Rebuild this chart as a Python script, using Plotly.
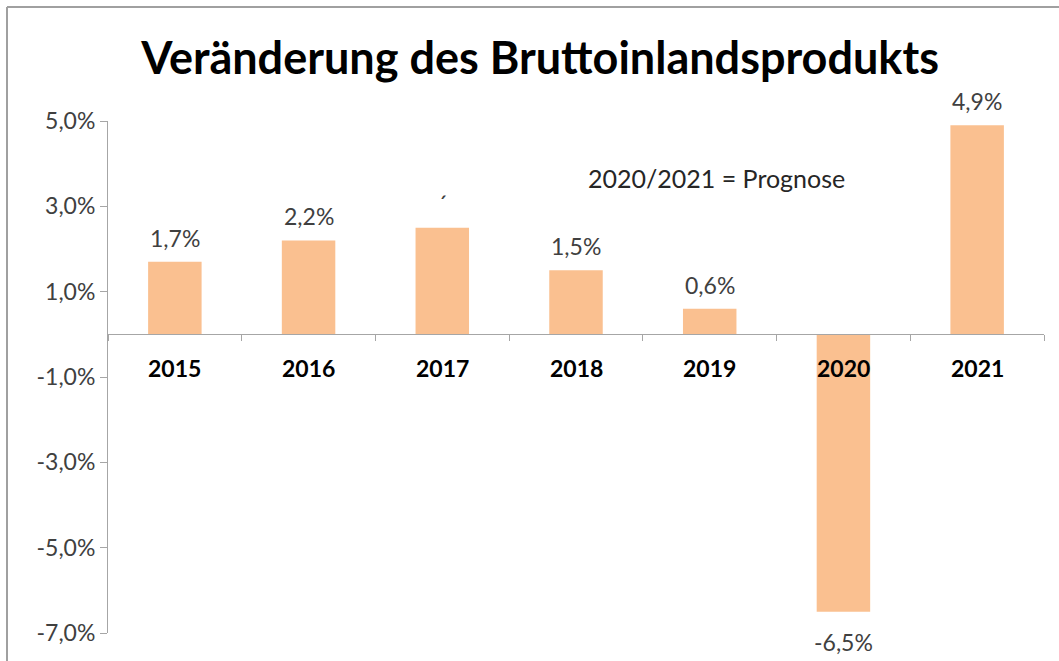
import plotly.graph_objects as go

# Data (percent change of GDP)
years = ["2015", "2016", "2017", "2018", "2019", "2020", "2021"]
growth = [1.7, 2.2, 2.5, 1.5, 0.6, -6.5, 4.9]
# the 2017 label is missing in the original, only a stray mark is visible
labels = ["1,7%", "2,2%", "´", "1,5%", "0,6%", "-6,5%", "4,9%"]
y_ticks = [5, 3, 1, -1, -3, -5, -7]
y_tick_text = ["5,0%", "3,0%", "1,0%", "-1,0%", "-3,0%", "-5,0%", "-7,0%"]

bar_color = "#FAC090"
axis_color = "#A6A6A6"
font_family = "Lato, Open Sans, sans-serif"

W, H = 1059, 661
margin = dict(l=108, r=15, t=121, b=28)
y_min, y_max = -7, 5
pw = W - margin["l"] - margin["r"]
ph = H - margin["t"] - margin["b"]

fig = go.Figure()
fig.add_trace(go.Bar(
    x=years,
    y=growth,
    marker=dict(color=bar_color, line=dict(width=0)),
    width=0.4,
    showlegend=False,
))

# value labels above / below the bars (category axis -> use the index)
for i, (val, txt) in enumerate(zip(growth, labels)):
    fig.add_annotation(
        x=i, y=val, text=txt, showarrow=False,
        yanchor="bottom" if val >= 0 else "top",
        yshift=8 if val >= 0 else -14,
        font=dict(family=font_family, size=23, color="#404040"),
    )

# category labels sitting just under the zero line
for i, yr in enumerate(years):
    fig.add_annotation(
        x=i, y=0, text="<b>" + yr + "</b>", showarrow=False,
        yanchor="top", yshift=-18,
        font=dict(family=font_family, size=23, color="black"),
    )

fig.add_annotation(
    x=0.65, y=3.66, xref="paper", yref="y", text="2020/2021 = Prognose",
    showarrow=False, xanchor="center", yanchor="middle",
    font=dict(family=font_family, size=25, color="#262626"),
)

# outer frame (top and left edge of the cropped chart area)
def px_x(px):
    return (px - margin["l"]) / pw

def px_y(py):
    return (H - margin["b"] - py) / ph

frame = dict(color="#A0A0A0", width=2)
fig.add_shape(type="line", xref="paper", yref="paper",
              x0=px_x(7), x1=px_x(W + 5), y0=px_y(7), y1=px_y(7), line=frame)
fig.add_shape(type="line", xref="paper", yref="paper",
              x0=px_x(7), x1=px_x(7), y0=px_y(7), y1=px_y(H + 5), line=frame)

fig.update_layout(
    width=W, height=H,
    margin=margin,
    paper_bgcolor="white",
    plot_bgcolor="white",
    bargap=0.6,
    title=dict(
        text="<b>Veränderung des Bruttoinlandsprodukts</b>",
        x=0.51, xref="container", xanchor="center",
        y=1 - 58 / H, yref="container", yanchor="middle",
        font=dict(family=font_family, size=45, color="black"),
    ),
    xaxis=dict(
        type="category",
        categoryorder="array", categoryarray=years,
        range=[-0.5, len(years) - 0.5],
        anchor="free",
        position=(0 - y_min) / (y_max - y_min),
        showline=True, linecolor=axis_color, linewidth=1,
        ticks="outside", tickson="boundaries", ticklen=6, tickcolor=axis_color,
        showticklabels=False,
        showgrid=False, zeroline=False,
    ),
    yaxis=dict(
        range=[y_min, y_max],
        tickmode="array", tickvals=y_ticks, ticktext=y_tick_text,
        showline=True, linecolor=axis_color, linewidth=1,
        ticks="outside", ticklen=7, tickcolor=axis_color,
        tickfont=dict(family=font_family, size=23, color="#404040"),
        showgrid=False, zeroline=False,
    ),
)

fig.write_html(
    "out.html",
    config={"displayModeBar": False},
    post_script="document.body.style.margin='0';document.body.style.overflow='hidden';",
)
